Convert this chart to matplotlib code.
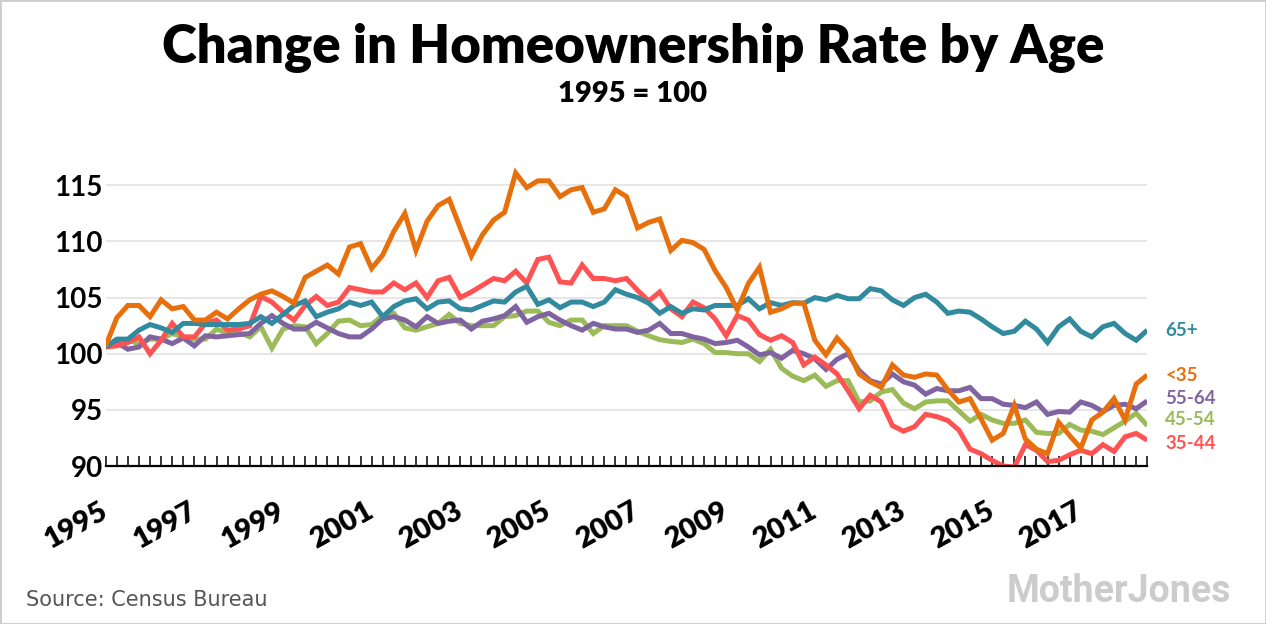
import matplotlib
matplotlib.use("Agg")
import matplotlib.pyplot as plt
from matplotlib.patches import Rectangle
import numpy as np

# Quarterly index values, 1995 Q1 .. 2018 Q3 (1995 = 100)
under_35 = [100.7, 103.2, 104.3, 104.3, 103.3, 104.8, 104.0, 104.2, 103.0, 103.0, 103.7, 103.1, 104.0, 104.8, 105.3, 105.6, 105.1, 104.5, 106.8,
            107.35, 107.9, 107.1, 109.5, 109.8, 107.6, 108.8, 110.9, 112.5, 109.2, 111.8, 113.2, 113.75, 111.2, 108.7, 110.6, 111.9, 112.6, 116.1,
            114.8, 115.4, 115.4, 114.0, 114.6, 114.8, 112.6, 112.9, 114.6, 114.0, 111.2, 111.7, 112.0, 109.2, 110.1, 109.9, 109.3, 107.4, 105.9,
            103.9, 106.25, 107.7, 103.7, 104.0, 104.5, 104.5, 101.2, 99.9, 101.4, 100.3, 98.2, 97.5, 97.0, 99.0, 98.1, 97.9, 98.2, 98.1,
            96.8, 95.7, 96.0, 94.2, 92.3, 92.9, 95.4, 92.4, 91.5, 91.1, 93.9, 92.7, 91.6, 94.1, 94.8, 96.0, 94.1, 97.3, 98.1]

age_35_44 = [100.6, 100.7, 101.0, 101.5, 100.0, 101.2, 102.7, 101.5, 101.5, 102.7, 103.0, 102.1, 102.2, 102.5, 105.1, 104.6, 103.7, 103.0, 104.3,
             105.1, 104.3, 104.6, 105.9, 105.7, 105.5, 105.5, 106.3, 105.7, 106.3, 105.0, 106.5, 106.8, 105.0, 105.5, 106.1, 106.7, 106.5, 107.35,
             106.3, 108.4, 108.6, 106.4, 106.3, 107.9, 106.7, 106.7, 106.5, 106.7, 105.65, 104.7, 105.5, 104.0, 103.3, 104.6, 104.1, 103.1, 101.6,
             103.4, 103.0, 101.7, 101.2, 101.6, 101.0, 99.0, 99.7, 99.0, 98.2, 96.7, 95.1, 96.3, 95.7, 93.6, 93.1, 93.5, 94.6, 94.4,
             94.05, 93.2, 91.5, 91.1, 90.5, 90.0, 89.9, 91.9, 91.4, 90.4, 90.5, 91.0, 91.4, 91.1, 91.9, 91.3, 92.6, 92.9, 92.3]

age_45_54 = [100.6, 101.0, 101.2, 100.9, 101.3, 101.3, 101.8, 101.5, 101.3, 101.3, 102.2, 101.8, 101.9, 101.5, 102.4, 100.5, 102.2, 102.5, 102.4,
             100.9, 101.8, 102.9, 103.0, 102.5, 102.6, 103.4, 103.6, 102.3, 102.1, 102.4, 102.7, 103.5, 102.7, 102.5, 102.5, 102.5, 103.3, 103.4,
             103.8, 103.8, 102.8, 102.5, 103.0, 103.0, 101.8, 102.5, 102.5, 102.5, 102.0, 101.6, 101.25, 101.1, 101.0, 101.3, 100.9, 100.1, 100.1,
             100.0, 100.0, 99.3, 100.4, 98.7, 98.0, 97.6, 98.1, 97.1, 97.6, 97.6, 95.7, 95.8, 96.6, 96.8, 95.6, 95.1, 95.7, 95.8,
             95.8, 94.9, 94.0, 94.6, 94.1, 93.8, 93.8, 94.1, 93.0, 92.9, 92.9, 93.7, 93.2, 93.1, 92.8, 93.4, 94.0, 94.7, 93.6]

age_55_64 = [100.6, 101.0, 100.4, 100.6, 101.5, 101.3, 100.9, 101.4, 100.7, 101.6, 101.5, 101.6, 101.7, 101.8, 102.7, 103.4, 102.7, 102.2, 102.2,
             102.8, 102.3, 101.8, 101.5, 101.5, 102.2, 103.1, 103.3, 103.0, 102.4, 103.3, 102.7, 102.9, 103.0, 102.2, 102.9, 103.1, 103.4, 104.2,
             102.8, 103.3, 103.6, 103.0, 102.5, 102.1, 102.7, 102.4, 102.2, 102.2, 101.9, 102.1, 102.7, 101.8, 101.8, 101.5, 101.3, 100.9, 101.0,
             101.2, 100.6, 99.9, 100.1, 99.6, 100.3, 100.0, 99.55, 98.6, 99.5, 100.0, 98.5, 97.6, 97.3, 98.2, 97.5, 97.2, 96.4, 96.9,
             96.7, 96.7, 97.0, 96.0, 96.0, 95.5, 95.4, 95.2, 95.7, 94.6, 94.85, 94.8, 95.7, 95.4, 94.85, 95.4, 95.5, 95.1, 95.8]

age_65_plus = [100.6, 101.3, 101.3, 102.1, 102.6, 102.3, 101.9, 102.7, 102.7, 102.6, 102.6, 102.6, 102.6, 102.7, 103.3, 102.7, 103.5, 104.3, 104.7,
               103.3, 103.7, 104.0, 104.6, 104.3, 104.6, 103.3, 104.2, 104.7, 104.9, 104.0, 104.6, 104.7, 104.0, 103.9, 104.3, 104.7, 104.6, 105.5,
               106.0, 104.4, 104.8, 104.1, 104.6, 104.6, 104.2, 104.6, 105.7, 105.3, 105.0, 104.5, 103.6, 104.2, 103.6, 104.0, 103.9, 104.3, 104.3,
               104.3, 104.9, 104.0, 104.55, 104.3, 104.55, 104.5, 105.0, 104.8, 105.2, 104.9, 104.9, 105.8, 105.6, 104.8, 104.3, 105.0, 105.3, 104.6,
               103.6, 103.8, 103.7, 103.1, 102.4, 101.8, 102.0, 102.9, 102.2, 101.0, 102.4, 103.1, 102.0, 101.5, 102.4, 102.7, 101.8, 101.2, 102.1]

series_labels = ["65+", "<35", "55-64", "45-54", "35-44"]
start_year = 1995
year_labels = [str(y) for y in range(1995, 2019, 2)]
y_ticks = [90, 95, 100, 105, 110, 115]

# ---------------- drawing ----------------
colors = {"<35": "#E8700C", "35-44": "#FF5353", "45-54": "#9BBB59",
          "55-64": "#8064A2", "65+": "#318A9E"}
data = {"<35": under_35, "35-44": age_35_44, "45-54": age_45_54,
        "55-64": age_55_64, "65+": age_65_plus}
zorders = {"45-54": 3, "55-64": 4, "35-44": 5, "65+": 6, "<35": 7}
# vertical positions of the end labels (value units)
label_y = {"65+": 102.1, "<35": 98.1, "55-64": 96.0, "45-54": 94.1, "35-44": 92.0}

FONT = ["Lato", "DejaVu Sans"]

fig = plt.figure(figsize=(12.66, 6.24), dpi=100)
fig.patch.set_facecolor("white")
ax = fig.add_axes([0.0835, 0.2532, 0.8227, 0.4858])

n = len(under_35)
x = np.arange(n)
for name in ["45-54", "55-64", "35-44", "65+", "<35"]:
    ax.plot(x, data[name], color=colors[name], lw=3.6, zorder=zorders[name],
            solid_joinstyle="miter", solid_capstyle="butt")

ax.set_xlim(0, n - 1)
ax.set_ylim(90, 117)
ax.set_yticks(y_ticks)
ax.set_yticklabels([str(v) for v in y_ticks], fontfamily=FONT, fontweight="bold",
                   fontsize=20, color="black")
ax.tick_params(axis="y", length=0, pad=2)
ax.grid(axis="y", color="#e2e2e2", lw=1.2, zorder=0)
ax.set_axisbelow(True)

ax.set_xticks(x)
xt_labels = []
for i in range(n):
    yr = start_year + i // 4
    xt_labels.append(str(yr) if (i % 8 == 0 and str(yr) in year_labels) else "")
ax.set_xticklabels(xt_labels, rotation=29, ha="right", rotation_mode="anchor",
                   va="center", fontfamily=FONT, fontweight="heavy", fontsize=21)
ax.tick_params(axis="x", direction="in", length=7, width=1.1, color="black", pad=31)

for s in ["top", "right", "left"]:
    ax.spines[s].set_visible(False)
ax.spines["bottom"].set_color("black")
ax.spines["bottom"].set_linewidth(1.6)
ax.spines["bottom"].set_zorder(10)

for name in series_labels:
    ax.annotate(name, xy=(n - 1, label_y[name]), xytext=(13, 0),
                textcoords="offset points", va="center", ha="left",
                color=colors[name], fontweight="bold", fontsize=13.5,
                fontfamily=FONT, annotation_clip=False)

fig.text(0.5, 1 - 48 / 624, "Change in Homeownership Rate by Age", ha="center",
         va="center", fontsize=38, fontweight="heavy", fontfamily=FONT)
fig.text(0.5, 1 - 94 / 624, "1995 = 100", ha="center", va="center",
         fontsize=21, fontweight="heavy", fontfamily=FONT)
fig.text(26 / 1266, 1 - 600 / 624, "Source: Census Bureau", ha="left", va="center",
         fontsize=15, color="#555555", fontfamily=["DejaVu Sans"])
fig.text(1231 / 1266, 1 - 591 / 624, "MotherJones", ha="right", va="center",
         fontsize=27, color="#cccccc", fontweight="bold",
         fontfamily=["Liberation Sans Narrow", "Roboto", "DejaVu Sans"])

fig.patches.append(Rectangle((0, 0), 1, 1, transform=fig.transFigure, fill=False,
                             edgecolor="#cccccc", lw=2, zorder=100))

fig.savefig("out.png", dpi=100, facecolor="white")
